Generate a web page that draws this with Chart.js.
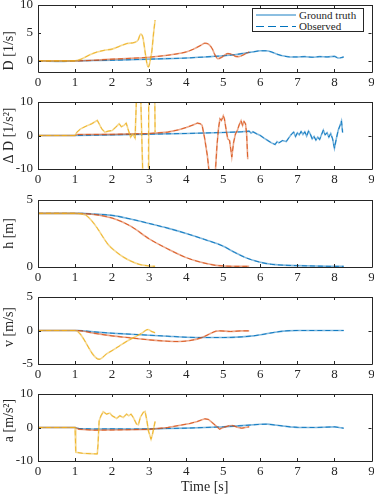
<!DOCTYPE html>
<html>
<head>
<meta charset="utf-8">
<script src="https://cdn.jsdelivr.net/npm/chart.js@4.4.0/dist/chart.umd.min.js"></script>
<style>
html, body { margin: 0; padding: 0; background: #fff; }
#wrap { position: relative; width: 374px; height: 499px; overflow: hidden; }
#wrap canvas { position: absolute; left: 0; }
#legend { position: absolute; left: 252px; top: 8px; width: 112px; height: 24px; box-sizing: border-box;
          border: 1px solid #262626; background: #fff; font: 11px "Liberation Serif", serif; color: #262626; }
#legend .row { position: absolute; left: 0; width: 100%; height: 11px; }
#legend .sample { position: absolute; left: 3px; width: 40px; top: 5px; }
#legend .text { position: absolute; left: 46px; top: -1px; line-height: 12px; white-space: nowrap; }
</style>
</head>
<body>
<div id="wrap">
  <canvas id="cD" width="374" height="97" style="top:0px"></canvas>
  <canvas id="cDD" width="374" height="97" style="top:97px"></canvas>
  <canvas id="cH" width="374" height="97" style="top:195px"></canvas>
  <canvas id="cV" width="374" height="97" style="top:292px"></canvas>
  <canvas id="cA" width="374" height="110" style="top:389px"></canvas>
  <div id="legend">
    <div class="row" style="top:1px">
      <div class="sample" style="height:2px;top:4px;background:rgba(0,114,189,0.45)"></div>
      <div class="text">Ground truth</div>
    </div>
    <div class="row" style="top:12px">
      <div class="sample" style="height:1px;background:repeating-linear-gradient(90deg,#0072BD 0 8px,transparent 8px 12px)"></div>
      <div class="text">Observed</div>
    </div>
  </div>
</div>
<script>
// time axis
const xTicks = [0, 1, 2, 3, 4, 5, 6, 7, 8, 9];

// D [1/s]  ([time, value])
const dBlue = [[0,0],[0.5,-0.1],[1,0],[1.5,0.05],[2,0.1],[2.5,0.2],[3,0.3],[3.5,0.4],[4,0.5],[4.5,0.7],[5,0.9],[5.3,1.1],[5.6,1.4],[5.8,1.6],[6,1.8],[6.15,1.8],[6.3,1.6],[6.45,1.2],[6.6,0.9],[6.8,0.7],[7,0.7],[7.2,0.75],[7.4,0.65],[7.6,0.75],[7.8,0.7],[8,0.8],[8.1,0.5],[8.2,0.6],[8.25,0.7]];
const dOrange = [[0,0],[1,0],[1.5,0.1],[2,0.3],[2.5,0.45],[3,0.65],[3.5,1.0],[3.8,1.3],[4.0,1.6],[4.2,2.1],[4.4,2.8],[4.5,3.15],[4.6,3.0],[4.7,2.2],[4.78,1.0],[4.85,0.4],[4.95,0.6],[5.05,1.1],[5.12,1.3],[5.22,1.2],[5.33,0.8],[5.42,0.75],[5.55,1.1],[5.7,1.6]];
const dYellow = [[0,0],[1,0],[1.2,0.4],[1.4,1.1],[1.6,1.6],[1.8,1.9],[2.0,2.1],[2.2,2.6],[2.4,3.1],[2.6,3.3],[2.7,3.7],[2.77,4.8],[2.83,4.2],[2.89,1.6],[2.94,-0.5],[2.98,-1.1],[3.02,-0.2],[3.07,1.6],[3.12,5.0],[3.16,7.3]];

// Delta D [1/s^2]
const ddBlue = [[0,0],[1,0],[2,0.2],[3,0.4],[4,0.6],[5,0.9],[5.5,1.1],[5.7,1.3],[5.75,0.7],[5.8,1.1],[5.9,0.5],[6.0,0],[6.1,-0.8],[6.2,-1.5],[6.3,-2.2],[6.4,-2.7],[6.45,-1.8],[6.5,-2.2],[6.6,-1.5],[6.7,-1.8],[6.8,-0.2],[6.85,0.5],[6.9,1.0],[6.95,-0.3],[7.0,0.8],[7.05,0.2],[7.1,1.2],[7.15,0.3],[7.2,1.1],[7.25,-0.2],[7.3,1.3],[7.35,0.4],[7.4,-1.0],[7.45,-0.3],[7.5,-1.4],[7.55,-0.5],[7.6,-1.2],[7.65,0.2],[7.7,1.6],[7.75,0.2],[7.8,0.8],[7.85,-0.5],[7.9,0.6],[7.95,-1.0],[8.0,-3.8],[8.05,-1.0],[8.1,1.5],[8.15,3.0],[8.19,4.3],[8.22,0.9]];
const ddOrange = [[0,0],[1,0],[1.05,0.3],[2,0.35],[3,0.6],[3.5,1.0],[3.8,1.7],[4.0,2.4],[4.2,3.2],[4.3,3.7],[4.38,3.5],[4.43,3.0],[4.5,-1],[4.57,-6],[4.63,-12],[4.78,-12],[4.83,-3],[4.87,2],[4.91,5.0],[4.95,4.5],[5.0,5.9],[5.03,5.0],[5.08,1.5],[5.12,-1.0],[5.17,-1.5],[5.23,-6.4],[5.28,-2],[5.33,0.5],[5.38,1.5],[5.43,3.2],[5.48,4.4],[5.52,3.0],[5.56,4.2],[5.6,3.5],[5.63,0.5],[5.66,-7.1]];
const ddYellow = [[0,0],[1,0],[1.05,1.0],[1.15,2.0],[1.3,2.8],[1.45,3.5],[1.6,4.5],[1.65,3.5],[1.72,2],[1.8,1.0],[1.9,1.3],[2.0,1.5],[2.1,2.5],[2.19,3.5],[2.25,2.6],[2.32,3.0],[2.38,3.7],[2.45,1.2],[2.5,-0.5],[2.55,0.4],[2.62,-0.8],[2.7,25],[2.74,25],[2.86,-25],[2.97,-25],[2.99,25],[3.14,25],[3.16,1.0]];

// h [m]
const hBlue = [[0,4],[1,4],[1.2,4],[1.5,3.95],[2,3.85],[2.5,3.58],[3,3.25],[3.5,2.9],[4,2.5],[4.5,2.05],[5,1.55],[5.3,1.1],[5.6,0.7],[6,0.35],[6.3,0.2],[6.6,0.14],[7,0.1],[7.5,0.07],[8,0.05],[8.25,0.05]];
const hOrange = [[0,4],[1,4],[1.2,3.98],[1.5,3.92],[2,3.65],[2.5,3.05],[3,2.1],[3.5,1.35],[4,0.7],[4.4,0.35],[4.8,0.12],[5.0,0.08],[5.4,0.05],[5.7,0.05]];
const hYellow = [[0,4],[1,4],[1.15,3.98],[1.3,3.85],[1.45,3.45],[1.6,2.9],[1.75,2.25],[1.9,1.65],[2.1,1.15],[2.3,0.75],[2.5,0.45],[2.75,0.18],[3,0.08],[3.16,0.05]];

// v [m/s]
const vBlue = [[0,0],[1.1,0],[1.5,-0.2],[2,-0.4],[2.5,-0.55],[3,-0.7],[3.5,-0.85],[4,-1.0],[4.5,-1.05],[5,-1.05],[5.5,-0.95],[5.8,-0.8],[6.1,-0.55],[6.4,-0.25],[6.7,-0.05],[7,0],[8.25,0]];
const vOrange = [[0,0],[1.05,0],[1.5,-0.4],[2,-0.8],[2.5,-1.1],[3,-1.4],[3.5,-1.6],[3.8,-1.65],[4.1,-1.5],[4.4,-1.1],[4.6,-0.6],[4.8,-0.1],[4.9,-0.05],[5.2,-0.15],[5.5,-0.05],[5.7,-0.05]];
const vYellow = [[0,0],[1.0,0],[1.65,-4.3],[1.85,-3.5],[2.03,-2.9],[2.2,-2.3],[2.4,-1.6],[2.6,-1.0],[2.8,-0.4],[2.97,0.15],[3.05,-0.1],[3.16,-0.35]];

// a [m/s^2]
const aBlue = [[0,0],[1,0],[1.1,-0.3],[1.5,-0.45],[2,-0.4],[2.5,-0.45],[3,-0.4],[3.5,-0.3],[4,-0.2],[4.5,0],[5,0.2],[5.5,0.55],[6,0.95],[6.2,1.0],[6.5,0.6],[6.8,0.2],[7,0.05],[7.5,0],[8,0.2],[8.25,-0.2]];
const aOrange = [[0,0],[1,0],[1.1,-0.5],[1.5,-0.8],[2,-0.75],[2.5,-0.65],[3,-0.55],[3.5,0],[3.8,0.6],[4.1,1.2],[4.3,1.8],[4.5,2.6],[4.6,2.4],[4.75,1.0],[4.9,-0.5],[5.0,0],[5.15,0.5],[5.25,0.6],[5.4,0],[5.5,-0.2],[5.7,0.2]];
const aYellow = [[0,0],[1,0],[1.02,-7.4],[1.2,-7.7],[1.4,-7.8],[1.6,-7.9],[1.62,-5],[1.65,2.0],[1.7,3.5],[1.76,4.7],[1.85,4.0],[1.94,4.3],[2.0,3.5],[2.08,3.0],[2.12,2.7],[2.21,3.5],[2.3,3.0],[2.39,4.0],[2.45,3.5],[2.51,4.0],[2.57,3.0],[2.66,1.0],[2.71,0.8],[2.76,3.0],[2.84,4.5],[2.89,4.8],[2.94,2.0],[2.98,-1.0],[3.05,-3.5],[3.09,-2.0],[3.16,1.8]];

const COLORS = { blue: [0, 114, 189], orange: [217, 83, 25], yellow: [237, 177, 32] };
const INK = '#262626';
const SP = n => '\u00a0'.repeat(n);

Chart.defaults.font.family = '"Liberation Serif", "Times New Roman", serif';
Chart.defaults.color = INK;

// box around the plot area + inward tick marks (MATLAB style)
const framePlugin = {
    id: 'frame',
    afterDatasetsDraw(chart) {
        const { ctx, chartArea: a, scales: { x, y } } = chart;
        const len = 3;
        ctx.save();
        ctx.strokeStyle = INK;
        ctx.lineWidth = 1;
        ctx.beginPath();
        x.ticks.forEach(t => {
            const px = Math.round(x.getPixelForValue(t.value)) + 0.5;
            ctx.moveTo(px, a.bottom); ctx.lineTo(px, a.bottom - len);
            ctx.moveTo(px, a.top); ctx.lineTo(px, a.top + len);
        });
        y.ticks.forEach(t => {
            const py = Math.round(y.getPixelForValue(t.value)) + 0.5;
            ctx.moveTo(a.left, py); ctx.lineTo(a.left + len, py);
            ctx.moveTo(a.right, py); ctx.lineTo(a.right - len, py);
        });
        ctx.rect(Math.round(a.left) + 0.5, Math.round(a.top) + 0.5,
                 Math.round(a.right - a.left), Math.round(a.bottom - a.top));
        ctx.stroke();
        ctx.restore();
    }
};

function lineSets(series, smooth) {
    const sets = [];
    const mode = smooth ? 'monotone' : 'default';
    // first dataset is drawn on top, so yellow goes first
    series.slice().reverse().forEach(s => {
        const c = COLORS[s.color].join(',');
        sets.push({
            data: s.data, borderColor: `rgba(${c},0.85)`, borderWidth: 1, borderDash: [5, 3],
            pointRadius: 0, fill: false, cubicInterpolationMode: mode, tension: 0
        });
        sets.push({
            data: s.data, borderColor: `rgba(${c},0.5)`, borderWidth: 1.6,
            pointRadius: 0, fill: false, cubicInterpolationMode: mode, tension: 0
        });
    });
    return sets;
}

function makePanel(id, p) {
    const tickFont = { size: 13 };
    return new Chart(document.getElementById(id), {
        type: 'line',
        data: { datasets: lineSets(p.series, p.smooth) },
        options: {
            responsive: false,
            animation: false,
            events: [],
            layout: { padding: { top: 5, right: 2.5, left: 0, bottom: 0 } },
            plugins: { legend: { display: false }, tooltip: { enabled: false } },
            scales: {
                x: {
                    type: 'linear', min: 0, max: 9,
                    afterBuildTicks: s => { s.ticks = xTicks.map(v => ({ value: v })); },
                    afterFit: s => { s.height = p.last ? 38 : 25; s.paddingLeft = 0; s.paddingRight = 0; },
                    grid: { display: false, drawTicks: false },
                    border: { display: false },
                    ticks: { padding: 3, font: tickFont, maxRotation: 0, autoSkip: false, color: INK },
                    title: p.last
                        ? { display: true, text: 'Time [s]', font: { size: 14 }, color: INK, padding: { top: 0, bottom: 3 } }
                        : { display: false }
                },
                y: {
                    type: 'linear', min: p.min, max: p.max,
                    afterBuildTicks: s => { s.ticks = p.ticks.map(v => ({ value: v })); },
                    // fixed width, and no extra room for the end labels so every plot box is the same size
                    afterFit: s => { s.width = 38; s.paddingTop = 0; s.paddingBottom = 0; },
                    grid: { display: false, drawTicks: false },
                    border: { display: false },
                    ticks: { padding: 5, font: tickFont, color: INK },
                    title: { display: true, text: p.title, font: { size: 14 }, color: INK, padding: { top: 1, bottom: 0 } }
                }
            }
        },
        plugins: [framePlugin]
    });
}

// extra non-breaking spaces nudge the rotated labels to where they sit in the figure
makePanel('cD', {
    title: 'D [1/s]' + SP(7), min: -2, max: 10, ticks: [0, 5, 10], smooth: true,
    series: [{ color: 'blue', data: dBlue }, { color: 'orange', data: dOrange }, { color: 'yellow', data: dYellow }]
});
makePanel('cDD', {
    title: 'Δ D [1/s²]', min: -10, max: 10, ticks: [-10, 0, 10], smooth: false,
    series: [{ color: 'blue', data: ddBlue }, { color: 'orange', data: ddOrange }, { color: 'yellow', data: ddYellow }]
});
makePanel('cH', {
    title: 'h [m]', min: 0, max: 5, ticks: [0, 5], smooth: true,
    series: [{ color: 'blue', data: hBlue }, { color: 'orange', data: hOrange }, { color: 'yellow', data: hYellow }]
});
makePanel('cV', {
    title: SP(2) + 'v [m/s]', min: -5, max: 5, ticks: [-5, 0, 5], smooth: true,
    series: [{ color: 'blue', data: vBlue }, { color: 'orange', data: vOrange }, { color: 'yellow', data: vYellow }]
});
makePanel('cA', {
    title: SP(4) + 'a [m/s²]', min: -10, max: 10, ticks: [-10, 0, 10], smooth: false, last: true,
    series: [{ color: 'blue', data: aBlue }, { color: 'orange', data: aOrange }, { color: 'yellow', data: aYellow }]
});
</script>
</body>
</html>
